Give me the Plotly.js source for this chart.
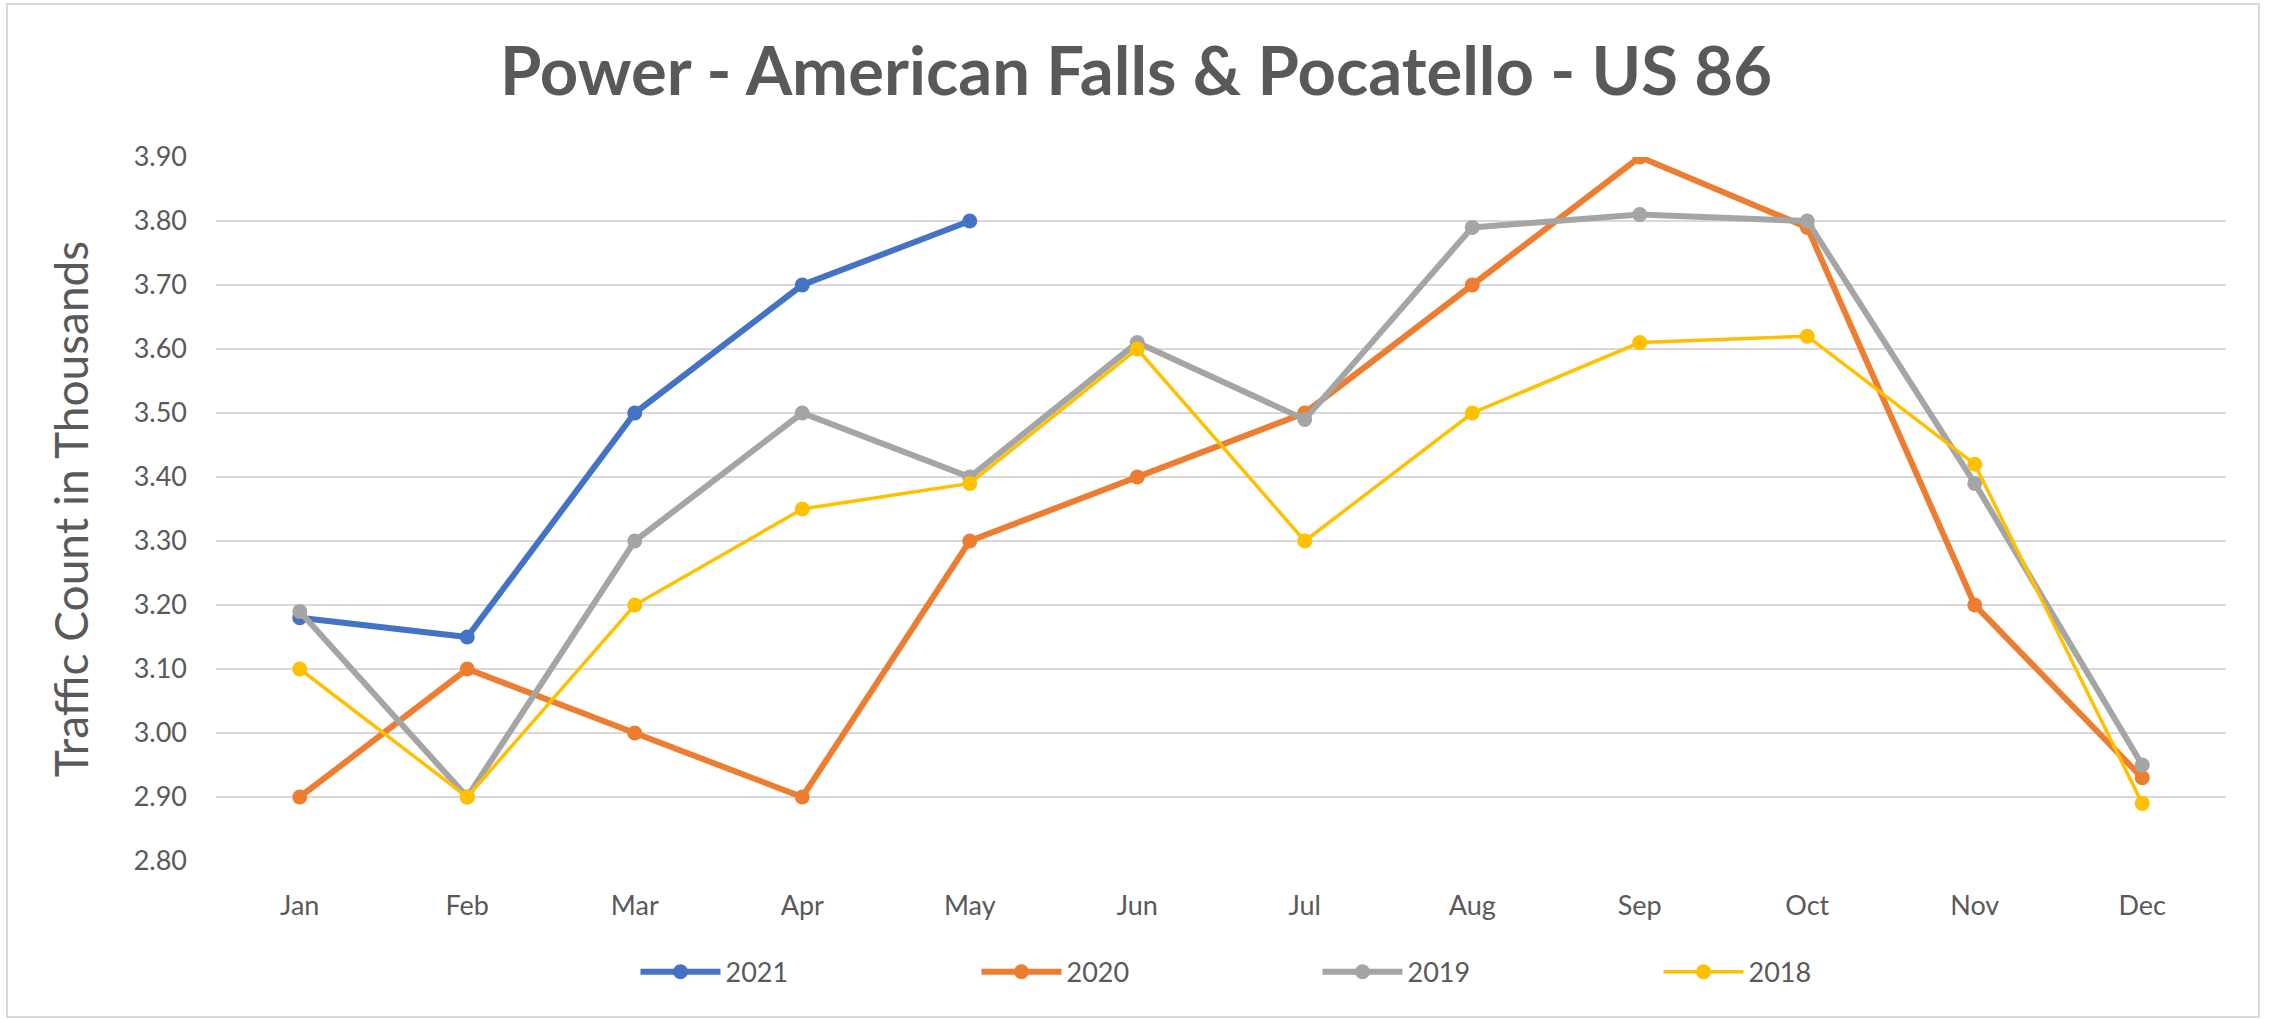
<!DOCTYPE html>
<html>
<head>
<meta charset="utf-8">
<script src="https://cdn.plot.ly/plotly-3.0.1.min.js"></script>
<style>
  html, body { margin: 0; padding: 0; background: #ffffff; }
  #wrap { position: relative; width: 2272px; height: 1019px; }
  #chart { width: 2272px; height: 1019px; }
  #frame { position: absolute; left: 6px; top: 3px; width: 2250px; height: 1011px;
           border: 2px solid #D9D9D9; pointer-events: none; }
</style>
</head>
<body>
<div id="wrap">
  <div id="chart"></div>
  <div id="frame"></div>
</div>
<script>
const months = ["Jan","Feb","Mar","Apr","May","Jun","Jul","Aug","Sep","Oct","Nov","Dec"];
const seriesNames = ["2021","2020","2019","2018"];
const values2021 = [3.18, 3.15, 3.50, 3.70, 3.80];
const values2020 = [2.90, 3.10, 3.00, 2.90, 3.30, 3.40, 3.50, 3.70, 3.90, 3.79, 3.20, 2.93];
const values2019 = [3.19, 2.90, 3.30, 3.50, 3.40, 3.61, 3.49, 3.79, 3.81, 3.80, 3.39, 2.95];
const values2018 = [3.10, 2.90, 3.20, 3.35, 3.39, 3.60, 3.30, 3.50, 3.61, 3.62, 3.42, 2.89];
const yTickValues = [2.80, 2.90, 3.00, 3.10, 3.20, 3.30, 3.40, 3.50, 3.60, 3.70, 3.80, 3.90];

const colors = ["#4472C4", "#ED7D31", "#A5A5A5", "#FFC000"];
const widths = [6, 6, 6, 3.5];
const allValues = [values2021, values2020, values2019, values2018];

const traces = allValues.map((vals, i) => ({
  type: "scatter",
  mode: "lines+markers",
  name: seriesNames[i],
  x: months.slice(0, vals.length),
  y: vals,
  line: { color: colors[i], width: widths[i] },
  marker: { color: colors[i], size: 15, symbol: "circle" }
}));

const txt = "#595959";
const layout = {
  width: 2272,
  height: 1019,
  margin: { l: 216, r: 46, t: 157, b: 158 },
  paper_bgcolor: "#ffffff",
  plot_bgcolor: "#ffffff",
  font: { family: "Lato, 'Open Sans', sans-serif", color: txt },
  title: {
    text: "<b>Power - American Falls & Pocatello - US 86</b>",
    font: { family: "Lato, sans-serif", size: 67, color: txt },
    x: 0.5, xanchor: "center",
    y: 1 - 72 / 1019, yanchor: "middle", yref: "container"
  },
  xaxis: {
    type: "category",
    categoryorder: "array",
    categoryarray: months,
    range: [-0.5, 11.5],
    showgrid: false,
    zeroline: false,
    showline: false,
    ticks: "",
    ticklabelstandoff: 26,
    tickfont: { size: 27, color: txt },
    fixedrange: true
  },
  yaxis: {
    range: [2.80, 3.90],
    tickvals: yTickValues,
    tickformat: ".2f",
    showgrid: true,
    gridcolor: "#D9D9D9",
    gridwidth: 2,
    zeroline: false,
    showline: false,
    ticks: "",
    ticklabelstandoff: 28,
    tickfont: { size: 27, color: txt },
    title: {
      text: "Traffic Count in Thousands",
      font: { size: 46, color: txt },
      standoff: 30
    },
    fixedrange: true
  },
  showlegend: true,
  legend: {
    orientation: "h",
    x: 0.548, xanchor: "center",
    y: -0.158, yanchor: "middle",
    font: { size: 27, color: txt },
    itemwidth: 80,
    entrywidth: 246,
    entrywidthmode: "pixels",
    bgcolor: "rgba(0,0,0,0)"
  }
};

Plotly.newPlot("chart", traces, layout, { displayModeBar: false, staticPlot: true });
</script>
</body>
</html>
